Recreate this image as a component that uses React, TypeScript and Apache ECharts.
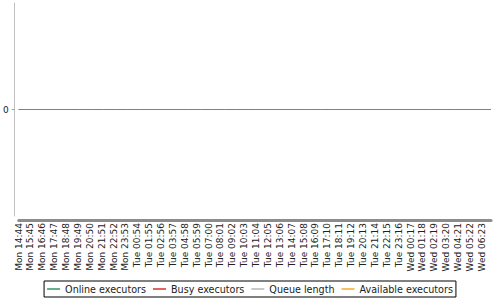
import React, { useEffect, useRef } from "react";
import * as echarts from "echarts";

const categories: string[] = [
  "Mon 14:44", "Mon 15:45", "Mon 16:46", "Mon 17:47", "Mon 18:48", "Mon 19:49", "Mon 20:50", "Mon 21:51", "Mon 22:52", "Mon 23:53",
  "Tue 00:54", "Tue 01:55", "Tue 02:56", "Tue 03:57", "Tue 04:58", "Tue 05:59", "Tue 07:00", "Tue 08:01", "Tue 09:02", "Tue 10:03",
  "Tue 11:04", "Tue 12:05", "Tue 13:06", "Tue 14:07", "Tue 15:08", "Tue 16:09", "Tue 17:10", "Tue 18:11", "Tue 19:12", "Tue 20:13",
  "Tue 21:14", "Tue 22:15", "Tue 23:16", "Wed 00:17", "Wed 01:18", "Wed 02:19", "Wed 03:20", "Wed 04:21", "Wed 05:22", "Wed 06:23",
];

const onlineExecutors: number[] = [
  0, 0, 0, 0, 0, 0, 0, 0, 0, 0, 0, 0, 0, 0, 0, 0, 0, 0, 0, 0,
  0, 0, 0, 0, 0, 0, 0, 0, 0, 0, 0, 0, 0, 0, 0, 0, 0, 0, 0, 0,
];
const busyExecutors: number[] = [
  0, 0, 0, 0, 0, 0, 0, 0, 0, 0, 0, 0, 0, 0, 0, 0, 0, 0, 0, 0,
  0, 0, 0, 0, 0, 0, 0, 0, 0, 0, 0, 0, 0, 0, 0, 0, 0, 0, 0, 0,
];
const queueLength: number[] = [
  0, 0, 0, 0, 0, 0, 0, 0, 0, 0, 0, 0, 0, 0, 0, 0, 0, 0, 0, 0,
  0, 0, 0, 0, 0, 0, 0, 0, 0, 0, 0, 0, 0, 0, 0, 0, 0, 0, 0, 0,
];
const availableExecutors: number[] = [
  0, 0, 0, 0, 0, 0, 0, 0, 0, 0, 0, 0, 0, 0, 0, 0, 0, 0, 0, 0,
  0, 0, 0, 0, 0, 0, 0, 0, 0, 0, 0, 0, 0, 0, 0, 0, 0, 0, 0, 0,
];

const yTicks: number[] = [0];
const seriesNames: string[] = ["Online executors", "Busy executors", "Queue length", "Available executors"];
const legendColors: string[] = ["#6aaf8a", "#e06464", "#c8c8c8", "#f8c060"];
const lineColors: string[] = ["#6aaf8a", "#e06464", "#c8c8c8", "#b8732e"];

const FONT = "DejaVu Sans";

export default function App() {
  const ref = useRef<HTMLDivElement>(null);
  useEffect(() => {
    if (!ref.current) return;
    const chart = echarts.init(ref.current, undefined, { renderer: "svg" });
    const seriesData = [onlineExecutors, busyExecutors, queueLength, availableExecutors];
    chart.setOption({
      animation: false,
      backgroundColor: "#ffffff",
      grid: [
        { left: 18, right: 9, top: 3, height: 213, containLabel: false },
        { left: 18.5, right: 18.2, top: 3, height: 213, containLabel: false },
      ],
      xAxis: [
        {
          type: "category",
          gridIndex: 0,
          data: categories,
          boundaryGap: false,
          offset: 4,
          axisLine: { show: true, onZero: false, lineStyle: { color: "#8c8c8c", width: 3 } },
          axisTick: { show: false },
          axisLabel: { show: false },
          splitLine: { show: false },
        },
        {
          type: "category",
          gridIndex: 1,
          data: categories,
          boundaryGap: false,
          offset: 4,
          axisLine: { show: false, onZero: false },
          axisTick: { show: false },
          axisLabel: {
            show: true,
            interval: 0,
            rotate: 90,
            margin: 3,
            fontFamily: FONT,
            fontSize: 9,
            color: "#222222",
          },
          splitLine: { show: false },
        },
      ],
      yAxis: [
        {
          type: "value",
          gridIndex: 0,
          min: -1,
          max: 1,
          offset: 4,
          axisLine: { show: true, lineStyle: { color: "#c0c0c0", width: 1 } },
          axisTick: { show: true, length: 3, customValues: yTicks, lineStyle: { color: "#a0a0a0" } },
          axisLabel: {
            show: true,
            customValues: yTicks,
            margin: 6,
            fontFamily: FONT,
            fontSize: 9,
            color: "#222222",
          },
          splitLine: { show: false },
        },
        {
          type: "value",
          gridIndex: 1,
          min: -1,
          max: 1,
          show: false,
        },
      ],
      legend: {
        bottom: 3,
        left: "center",
        icon: "rect",
        itemWidth: 13,
        itemHeight: 2,
        itemGap: 7,
        padding: [3, 3, 3, 3],
        borderColor: "#000000",
        borderWidth: 1,
        textStyle: { fontFamily: FONT, fontSize: 9.6, color: "#222222" },
        data: seriesNames.map((name, i) => ({ name, itemStyle: { color: legendColors[i] } })),
      },
      series: seriesNames.map((name, i) => ({
        name,
        type: "line",
        xAxisIndex: 0,
        yAxisIndex: 0,
        data: seriesData[i],
        showSymbol: false,
        symbol: "none",
        lineStyle: { color: lineColors[i], width: 1 },
        itemStyle: { color: lineColors[i] },
      })),
    });
    return () => chart.dispose();
  }, []);
  return <div ref={ref} style={{ width: 500, height: 300, position: "absolute", left: 0, top: 0 }} />;
}
